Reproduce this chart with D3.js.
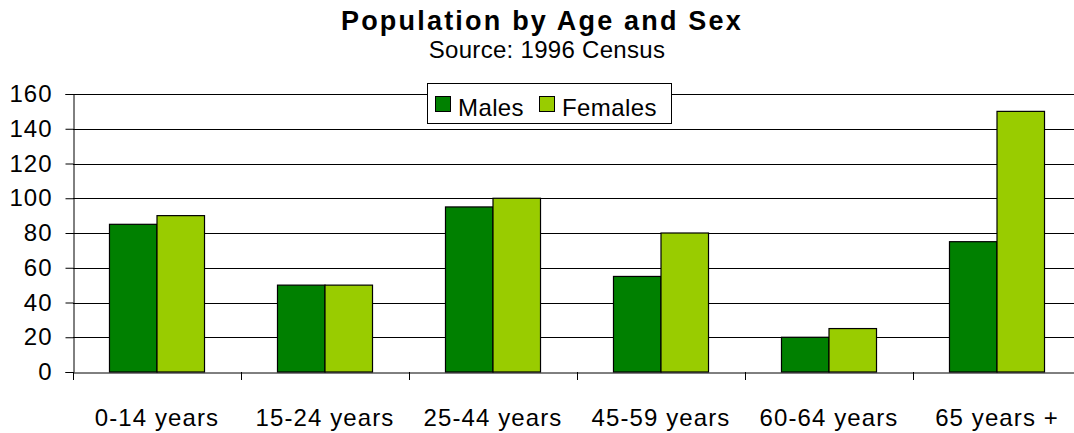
<!DOCTYPE html>
<html>
<head>
<meta charset="utf-8">
<script src="https://d3js.org/d3.v7.min.js"></script>
<style>
  body { margin: 0; background: #fff; }
  svg { display: block; font-family: "Liberation Sans", Arial, sans-serif; }
</style>
</head>
<body>
<div id="chart"></div>
<script>
// Chart data
const categories = ['0-14 years', '15-24 years', '25-44 years', '45-59 years', '60-64 years', '65 years +'];
const seriesNames = ['Males', 'Females'];
const males = [85, 50, 95, 55, 20, 75];
const females = [90, 50, 100, 80, 25, 150];
const yTicks = [0, 20, 40, 60, 80, 100, 120, 140, 160];
const colors = ['#008000', '#99cc00'];

const width = 1074;
const height = 433;
const plot = { left: 73, right: 1081, top: 94, bottom: 372 };
const font = '"Liberation Sans", Arial, sans-serif';

const svg = d3.select('#chart')
    .append('svg')
    .attr('width', width)
    .attr('height', height);

const x0 = d3.scaleBand()
    .domain(categories)
    .range([plot.left, plot.right])
    .paddingInner(0)
    .paddingOuter(0);

const x1 = d3.scaleBand()
    .domain(seriesNames)
    .range([0, x0.bandwidth()])
    .paddingInner(0)
    .paddingOuter(0.768);

const y = d3.scaleLinear()
    .domain([0, 160])
    .range([plot.bottom, plot.top]);

// Gridlines
svg.append('g')
    .selectAll('line')
    .data(yTicks.filter(d => d > 0))
    .enter()
    .append('line')
    .attr('x1', plot.left)
    .attr('x2', plot.right)
    .attr('y1', d => Math.round(y(d)) + 0.5)
    .attr('y2', d => Math.round(y(d)) + 0.5)
    .attr('stroke', '#000')
    .attr('stroke-width', 1);

// Bars
const rows = categories.map((c, i) => ({ cat: c, values: [males[i], females[i]] }));

const groups = svg.append('g')
    .selectAll('g')
    .data(rows)
    .enter()
    .append('g')
    .attr('transform', d => `translate(${x0(d.cat)},0)`);

groups.selectAll('rect')
    .data(d => d.values.map((v, j) => ({ key: seriesNames[j], value: v, idx: j })))
    .enter()
    .append('rect')
    .attr('x', d => x1(d.key))
    .attr('y', d => y(d.value))
    .attr('width', x1.bandwidth())
    .attr('height', d => y(0) - y(d.value))
    .attr('fill', d => colors[d.idx])
    .attr('stroke', '#000')
    .attr('stroke-width', 1.2);

// Y axis
const yAxis = d3.axisLeft(y)
    .tickValues(yTicks)
    .tickSize(8)
    .tickPadding(13)
    .tickFormat(d3.format('d'));

const yG = svg.append('g')
    .attr('transform', `translate(${plot.left + 0.5},0)`)
    .call(yAxis);
yG.select('.domain').attr('stroke', '#000');
yG.selectAll('.tick line').attr('stroke', '#000');
yG.selectAll('.tick text')
    .attr('font-size', 24)
    .attr('letter-spacing', 1)
    .attr('fill', '#000')
    .attr('font-family', font);

// X axis
const xAxis = d3.axisBottom(x0)
    .tickSize(0)
    .tickPadding(0)
    .tickSizeOuter(0);

const xG = svg.append('g')
    .attr('transform', `translate(0,${Math.round(plot.bottom) + 0.5})`)
    .call(xAxis);
xG.select('.domain').attr('stroke', '#000');
xG.selectAll('.tick text')
    .attr('font-size', 24)
    .attr('letter-spacing', 1.1)
    .attr('fill', '#000')
    .attr('font-family', font)
    .attr('dy', null)
    .attr('y', 53);

// Category separator ticks
svg.append('g')
    .selectAll('line')
    .data(categories)
    .enter()
    .append('line')
    .attr('x1', d => Math.round(x0(d)) + 0.5)
    .attr('x2', d => Math.round(x0(d)) + 0.5)
    .attr('y1', plot.bottom)
    .attr('y2', plot.bottom + 8)
    .attr('stroke', '#000');

// Titles
svg.append('text')
    .attr('x', 542)
    .attr('y', 30)
    .attr('text-anchor', 'middle')
    .attr('font-size', 27)
    .attr('font-weight', 'bold')
    .attr('letter-spacing', 2.2)
    .text('Population by Age and Sex');

svg.append('text')
    .attr('x', 547)
    .attr('y', 58)
    .attr('text-anchor', 'middle')
    .attr('font-size', 24)
    .attr('letter-spacing', 0.3)
    .text('Source: 1996 Census');

// Legend
const legend = svg.append('g');
legend.append('rect')
    .attr('x', 427.5)
    .attr('y', 83.5)
    .attr('width', 244)
    .attr('height', 40)
    .attr('fill', '#fff')
    .attr('stroke', '#000');

const legendX = [435, 539];
const items = legend.selectAll('g.item')
    .data(seriesNames)
    .enter()
    .append('g')
    .attr('class', 'item')
    .attr('transform', (d, i) => `translate(${legendX[i]},96)`);

items.append('rect')
    .attr('x', 0.5)
    .attr('y', 0.5)
    .attr('width', 15)
    .attr('height', 15)
    .attr('fill', (d, i) => colors[i])
    .attr('stroke', '#000');

items.append('text')
    .attr('x', 23)
    .attr('y', 20)
    .attr('font-size', 24)
    .attr('letter-spacing', 0.4)
    .text(d => d);
</script>
</body>
</html>
